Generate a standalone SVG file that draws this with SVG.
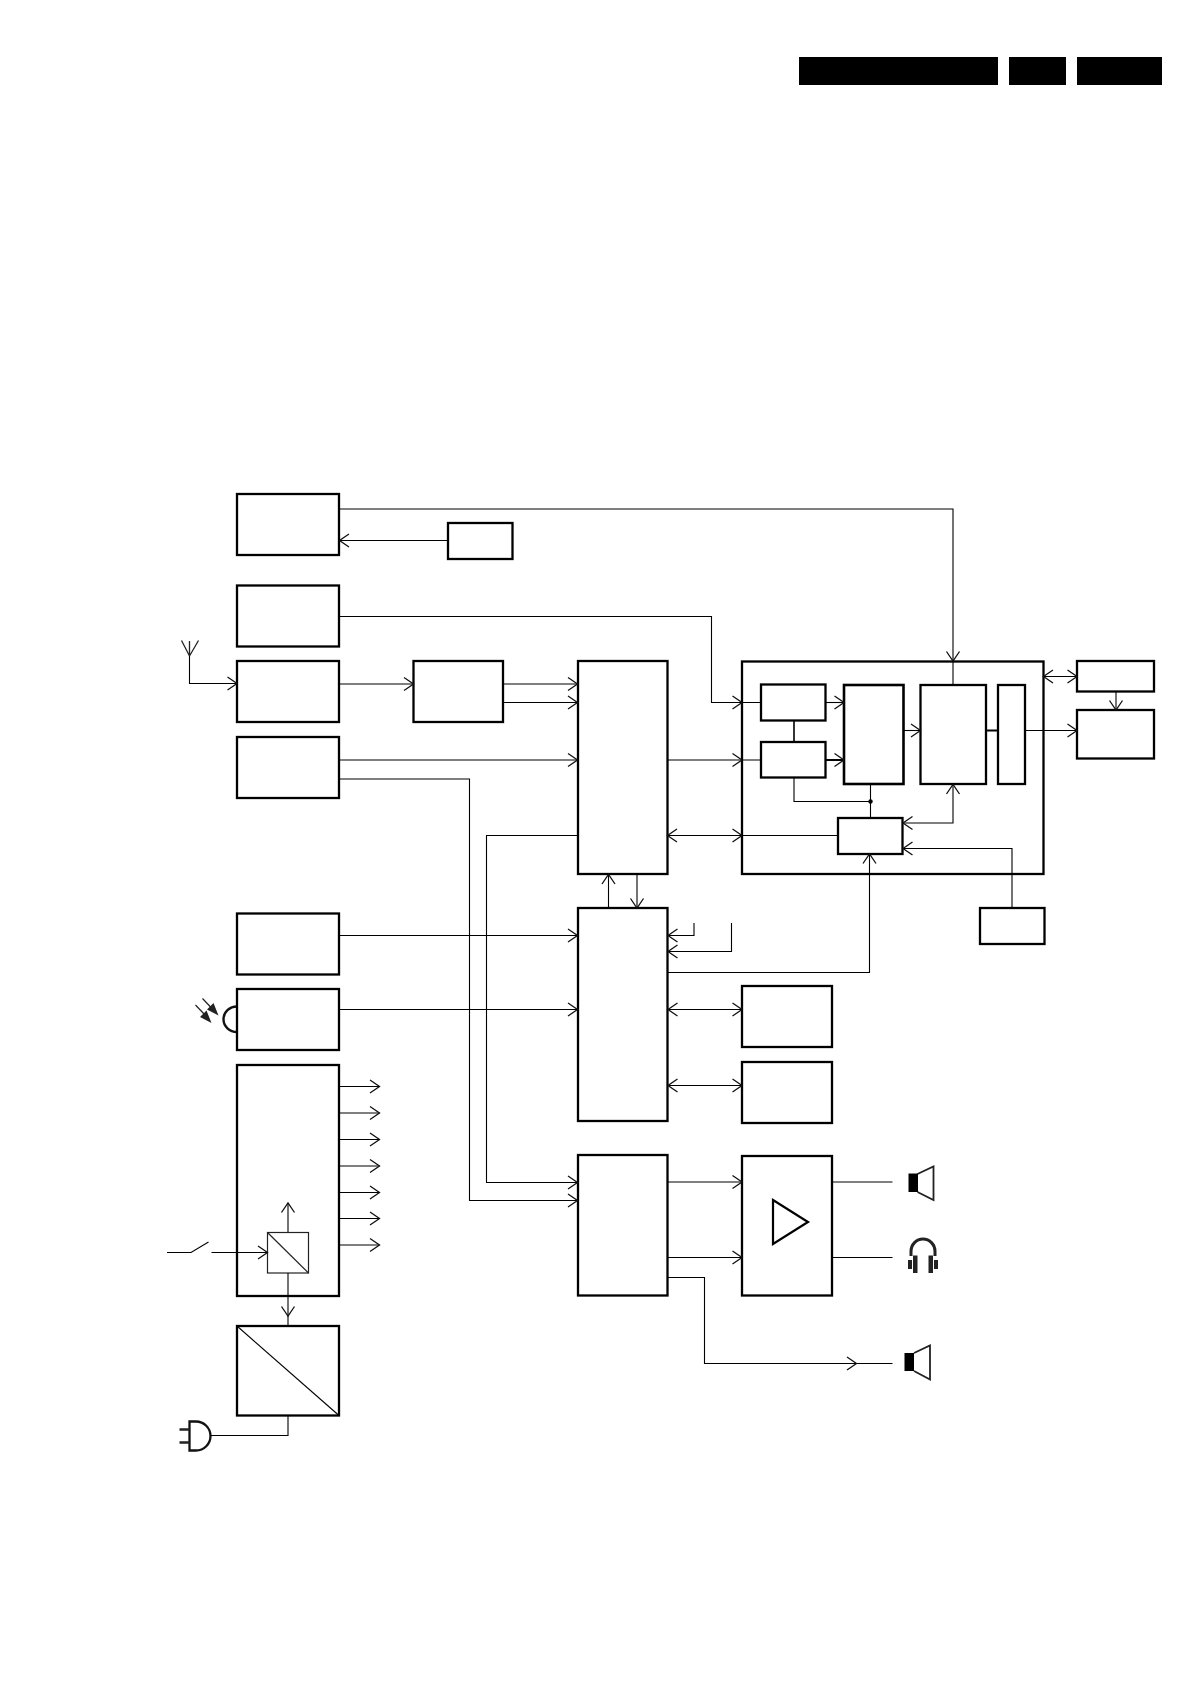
<svg xmlns="http://www.w3.org/2000/svg" width="1190" height="1684" viewBox="0 0 1190 1684">
<style>
.b{fill:#fff;stroke:#000;stroke-width:2.300}
.s{fill:#fff;stroke:#222;stroke-width:1.200}
.c{fill:none;stroke:#000;stroke-width:1.100}
.a{marker-end:url(#h)}
.d{marker-start:url(#r);marker-end:url(#h)}
.g{fill:none;stroke:#222;stroke-width:1.200}
</style>
<defs>
<marker id="h" markerUnits="userSpaceOnUse" markerWidth="24" markerHeight="24" refX="12" refY="12" orient="auto" overflow="visible"><path d="M2.500 5.500L12 12L2.500 18.500" fill="none" stroke="#111" stroke-width="1.300"/></marker>
<marker id="r" markerUnits="userSpaceOnUse" markerWidth="24" markerHeight="24" refX="12" refY="12" orient="auto-start-reverse" overflow="visible"><path d="M2.500 5.500L12 12L2.500 18.500" fill="none" stroke="#111" stroke-width="1.300"/></marker>
</defs>
<g id="header">
<rect x="799" y="57" width="199" height="28"/>
<rect x="1009" y="57" width="57" height="28"/>
<rect x="1077" y="57" width="85" height="28"/>
</g>
<g id="node-a"><rect class="b" x="237" y="494" width="102" height="61"/></g>
<g id="node-a2"><rect class="b" x="448" y="523" width="64.500" height="36"/></g>
<g id="node-b"><rect class="b" x="237" y="585.500" width="102" height="61"/></g>
<g id="node-c"><rect class="b" x="237" y="661" width="102" height="61"/></g>
<g id="node-d"><rect class="b" x="413.500" y="661" width="89.500" height="61"/></g>
<g id="node-e"><rect class="b" x="237" y="737" width="102" height="61"/></g>
<g id="antenna"><path class="g" d="M181.500 640.500L189.500 656L198.500 640.500M189.500 641V656" style="stroke-width:1.300"/></g>
<g id="node-f"><rect class="b" x="578" y="661" width="89.500" height="213"/></g>
<g id="node-g"><rect class="b" x="578" y="908" width="89.500" height="213"/></g>
<g id="node-h"><rect class="b" x="578" y="1155" width="89.500" height="140.500"/></g>
<g id="node-i"><rect class="b" x="237" y="913.500" width="102" height="61"/></g>
<g id="node-j">
<path d="M237 1006.500A13.500 12.750 0 0 0 237 1032" fill="none" stroke="#111" stroke-width="2.400"/>
<rect class="b" x="237" y="989" width="102" height="61"/>
<path class="g" d="M195.500 1005L205 1015M202.500 998.500L212 1008.500"/>
<path d="M211.500 1023L200 1017L206.500 1010.500ZM218.500 1015.500L207 1009.500L213.500 1003Z" fill="#222"/>
</g>
<g id="node-k"><rect class="b" x="237" y="1065" width="102" height="231"/></g>
<g id="node-k2"><rect class="s" x="267.500" y="1232.500" width="41" height="40.500"/><path class="g" d="M267.500 1232.500L308.500 1273"/></g>
<g id="node-l"><rect class="b" x="237" y="1326" width="102" height="89.500"/><path class="c" d="M237 1326L339 1415.500"/></g>
<g id="plug"><path d="M189.500 1421.500H196A14.500 14.500 0 0 1 196 1450.500H189.500Z" fill="#fff" stroke="#111" stroke-width="2.300"/><path d="M179.500 1429.500H189.500M179.500 1442.500H189.500" stroke="#222" stroke-width="2.600"/></g>
<g id="node-m"><rect class="b" x="742" y="986" width="90" height="61"/></g>
<g id="node-n"><rect class="b" x="742" y="1062" width="90" height="61"/></g>
<g id="node-amp"><rect class="b" x="742" y="1156" width="90" height="139.500"/><path d="M773 1200L808 1222L773 1244Z" fill="#fff" stroke="#000" stroke-width="2.200"/></g>
<g id="speaker-1"><path d="M917.500 1174L933.500 1166.500V1200L917.500 1192" fill="#fff" stroke="#222" stroke-width="1.800"/><rect x="908.500" y="1173.500" width="9.500" height="18.500"/></g>
<g id="headphones"><path d="M911 1256V1251.500A12 12.500 0 0 1 935 1251.500V1256" fill="none" stroke="#222" stroke-width="3"/><path d="M913 1255.500h4.500v17.500h-4.500zM928.500 1255.500h4.500v17.500h-4.500zM908 1260h4v9h-4zM934 1260h4v9h-4z" fill="#222"/></g>
<g id="speaker-2"><path d="M914 1353L930 1345.500V1379.500L914 1371" fill="#fff" stroke="#222" stroke-width="1.800"/><rect x="904.500" y="1353" width="9.500" height="18"/></g>
<g id="node-p">
<rect x="742" y="661.500" width="301.500" height="212.500" fill="none" stroke="#000" stroke-width="2.300"/>
</g>
<g id="node-p1"><rect class="b" x="761" y="684.500" width="64.500" height="36"/></g>
<g id="node-p2"><rect class="b" x="761" y="742" width="64.500" height="35.500"/></g>
<g id="node-p3"><rect class="b" x="844" y="685" width="59.500" height="99" style="stroke-width:2.600"/></g>
<g id="node-p4"><rect class="b" x="920.500" y="685" width="65.500" height="99"/></g>
<g id="node-p5"><rect class="b" x="998" y="685" width="27" height="99"/></g>
<g id="node-p6"><rect class="b" x="838" y="818" width="64.500" height="36"/></g>
<g id="junction"><circle cx="870.500" cy="801.500" r="2.200"/></g>
<g id="node-q1"><rect class="b" x="1077" y="661" width="77" height="30.500"/></g>
<g id="node-q2"><rect class="b" x="1077" y="710" width="77" height="48.500"/></g>
<g id="node-r"><rect class="b" x="980" y="908" width="64.500" height="36"/></g>
<g id="connectors">
<path class="c a" d="M339 509H953V661"/>
<path class="c" d="M953 661V684"/>
<path class="c a" d="M448 540.500H339.500"/>
<path class="c a" d="M339 616.500H711.500V702.500H742"/>
<path class="c a" d="M189.500 656V683.500H237"/>
<path class="c a" d="M339 684H413.500"/>
<path class="c a" d="M503 684H577.500"/>
<path class="c a" d="M503 702.500H577.500"/>
<path class="c a" d="M339 760H577.500"/>
<path class="c a" d="M339 779H469.500V1200.500H577.500"/>
<path class="c a" d="M577.500 835.500H486.500V1182.500H577.500"/>
<path class="c a" d="M667.500 760H742"/>
<path class="c d" d="M667.500 835.500H742"/>
<path class="c" d="M742 835.500H838"/>
<path class="c" d="M742 702.500H761M742 760H761"/>
<path class="c a" d="M825.500 702.500H844"/>
<path class="c a" d="M825.500 760H844" style="stroke-width:2"/>
<path class="c" d="M794 720V742" style="stroke-width:1.600"/>
<path class="c" d="M794 777.500V801.500H870.500M870.500 784V817.500"/>
<path class="c a" d="M903.500 730.500H920.500"/>
<path class="c" d="M986 730.500H998" style="stroke-width:2"/>
<path class="c a" d="M1025 730.500H1077"/>
<path class="c d" d="M1043.500 676.500H1077"/>
<path class="c a" d="M1116 692V710"/>
<path class="c d" d="M953 784.500V823H903"/>
<path class="c a" d="M1012 907.500V848.500H903"/>
<path class="c a" d="M667.500 972.500H869.500V854"/>
<path class="c a" d="M608.500 908V874.500"/>
<path class="c a" d="M637 874V908"/>
<path class="c a" d="M694 923V935.500H668"/>
<path class="c a" d="M731.500 923V951.500H668"/>
<path class="c a" d="M339 935.500H577.500"/>
<path class="c a" d="M339 1009.500H577.500"/>
<path class="c d" d="M668 1009.500H742"/>
<path class="c d" d="M668 1085.500H742"/>
<path class="c a" d="M667.500 1182H742"/>
<path class="c a" d="M667.500 1257.500H742"/>
<path class="c" d="M832 1182H892.500M832 1257.500H892.500"/>
<path class="c" d="M668 1277.500H704.500V1363.500H892.500"/>
<path class="c a" d="M800 1363.500H856.500"/>
<path class="c a" d="M339 1086.500H379.500"/>
<path class="c a" d="M339 1113H379.500"/>
<path class="c a" d="M339 1139.500H379.500"/>
<path class="c a" d="M339 1166H379.500"/>
<path class="c a" d="M339 1192.500H379.500"/>
<path class="c a" d="M339 1218.500H379.500"/>
<path class="c a" d="M339 1245H379.500"/>
<path class="c" d="M167 1252.500H191L208.500 1242"/>
<path class="c a" d="M211.500 1252.500H267.500"/>
<path class="c a" d="M288 1232V1203"/>
<path class="c a" d="M288 1273V1316"/>
<path class="c" d="M288 1316V1326"/>
<path class="c" d="M288 1415V1435.500H210"/>
</g>
</svg>
